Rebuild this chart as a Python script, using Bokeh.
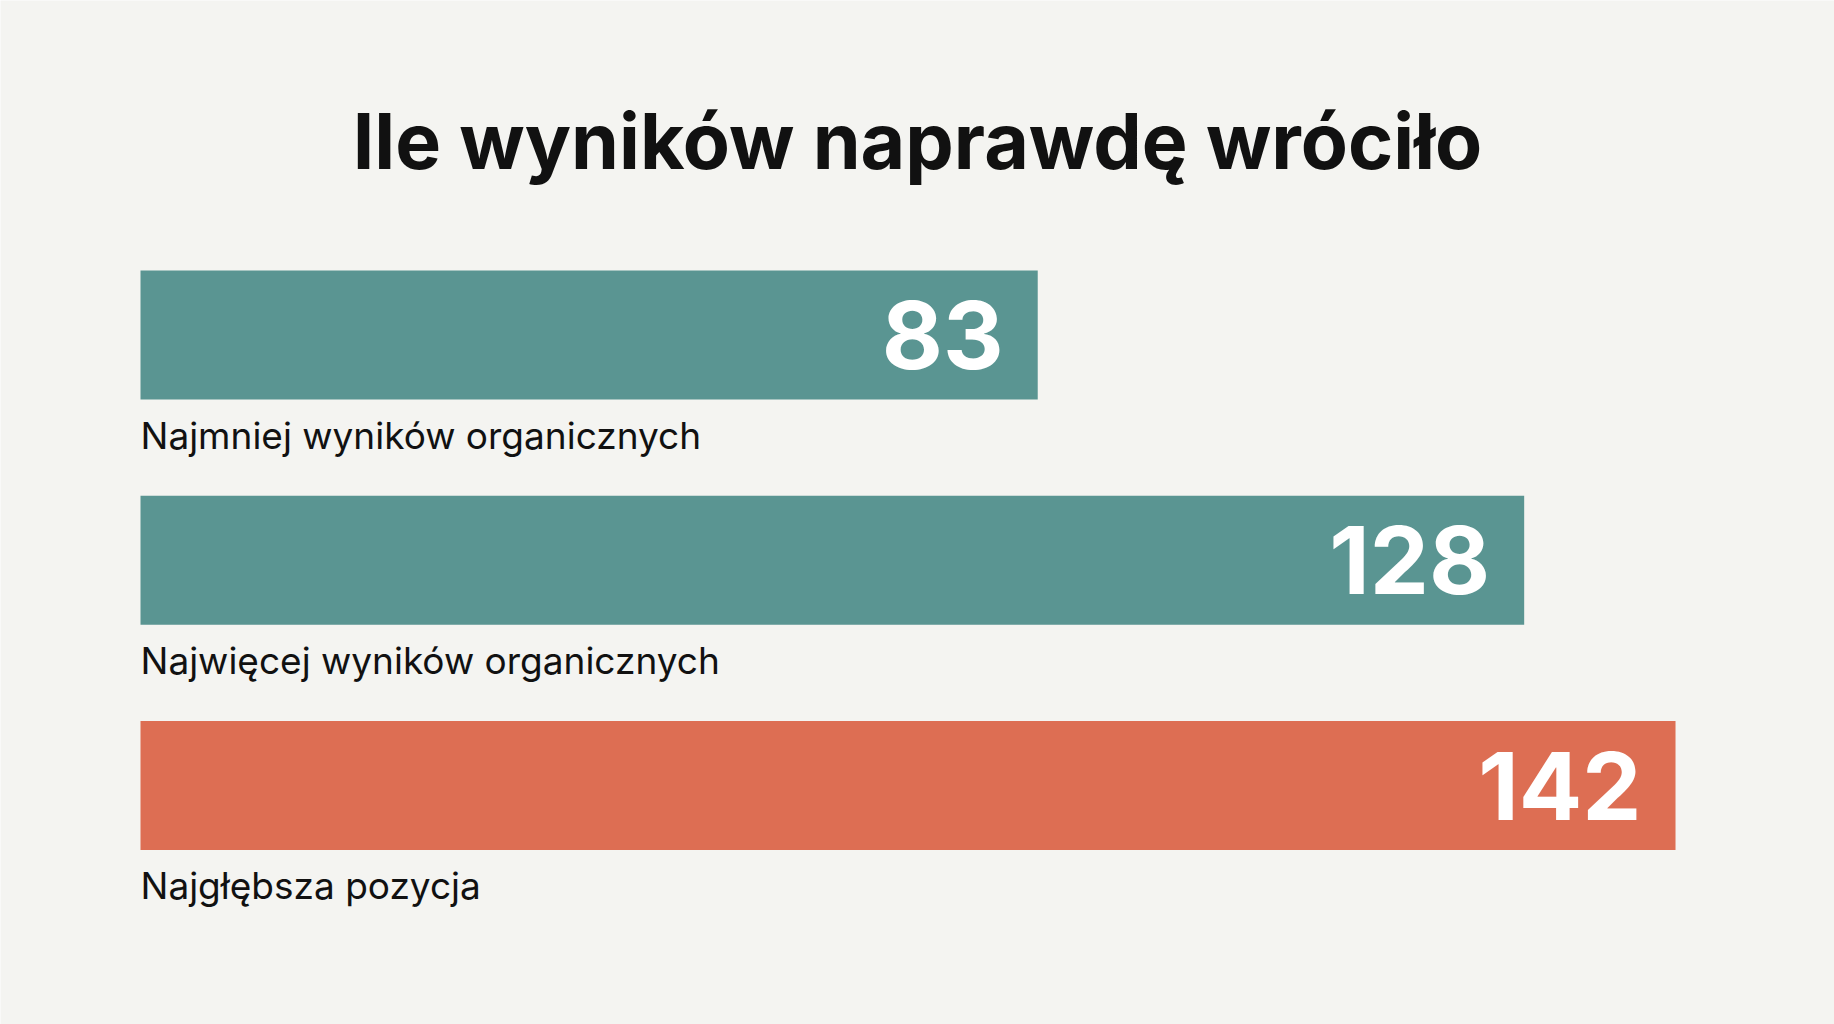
from bokeh.core.properties import value
from bokeh.embed import file_html
from bokeh.models import ColumnDataSource, Label, Range1d
from bokeh.plotting import figure
from bokeh.resources import INLINE

# data
labels = ["Najmniej wyników organicznych", "Najwięcej wyników organicznych", "Najgłębsza pozycja"]
counts = [83, 128, 142]
colors = ["#5A9592", "#5A9592", "#DD6E53"]
title_text = "Ile wyników naprawdę wróciło"

W, H = 1834, 1024
px_per_unit = 10.81   # x scale
x0 = 140              # canvas px where value 0 sits
row_px = 225.25       # distance between rows
row0 = 334.5          # canvas px of first bar centre

rows = list(range(len(counts)))
src = ColumnDataSource(dict(
    y=rows,
    right=counts,
    color=colors,
    label=labels,
    txt=[str(c) for c in counts],
    ylab=[r + 100 / row_px for r in rows],
))

p = figure(width=W, height=H, output_backend="svg", toolbar_location=None, tools="",
           x_range=Range1d(-x0 / px_per_unit, (W - x0) / px_per_unit),
           y_range=Range1d((H - row0) / row_px, -row0 / row_px),
           min_border=0, background_fill_color="#F4F4F1", border_fill_color="#F4F4F1")
p.axis.visible = False
p.grid.grid_line_color = None
p.outline_line_color = None

# bars
p.hbar(y="y", left=0, right="right", height=129 / row_px, fill_color="color",
       line_color=None, source=src)

# values inside the bars
p.text(x="right", y="y", text="txt", source=src, x_offset=-34,
       text_align="right", text_baseline="middle", text_color="white",
       text_font=value("Inter"), text_font_style="bold", text_font_size="94px")

# category labels under each bar
p.text(x=0, y="ylab", text="label", source=src, text_align="left",
       text_baseline="middle", text_color="#111111",
       text_font=value("Inter"), text_font_size="37px")

# title
p.add_layout(Label(x=W / 2, y=H - 140, x_units="screen", y_units="screen",
                   text=title_text, text_align="center", text_baseline="middle",
                   text_color="#111111", text_font="Inter", text_font_style="bold",
                   text_font_size="77px"))

open("out.html", "w").write(file_html(p, INLINE))
